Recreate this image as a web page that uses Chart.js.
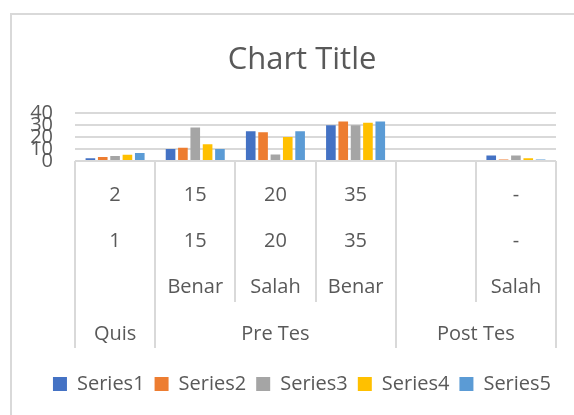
<!DOCTYPE html>
<html><head><meta charset="utf-8">
<script src="https://cdn.jsdelivr.net/npm/chart.js@4/dist/chart.umd.min.js"></script>
<style>html,body{margin:0;padding:0;overflow:hidden;background:#fff}canvas{display:block}</style>
</head><body>
<canvas id="c" width="600" height="415"></canvas>
<script>
// ---- data ----
const level1 = ["2", "15", "20", "35", "", "-"];
const level2 = ["1", "15", "20", "35", "", "-"];
const level3 = ["", "Benar", "Salah", "Benar", "", "Salah"];
const groupLabels = ["Quis", "Pre Tes", "Post Tes"];
const groupSizes = [1, 3, 2];
const seriesNames = ["Series1", "Series2", "Series3", "Series4", "Series5"];
const series1 = [2.2, 10, 25, 30, null, 4.5];
const series2 = [3.3, 11, 24, 33, null, 1.3];
const series3 = [4.2, 28, 5.5, 30, null, 4.7];
const series4 = [5.3, 14, 20, 32, null, 2.2];
const series5 = [6.7, 10, 25, 33, null, 1.3];
const yTicks = [0, 10, 20, 30, 40];
const titleText = "Chart Title";

const colors = ["#4472C4", "#ED7D31", "#A5A5A5", "#FFC000", "#5B9BD5"];
const TEXT = "#595959";
const GRID = "#d9d9d9";
const FONT = '"Open Sans", "Liberation Sans", sans-serif';

const borderPlugin = {
  id: 'frame',
  beforeDraw(chart) {
    const ctx = chart.ctx;
    ctx.save();
    ctx.strokeStyle = GRID; ctx.lineWidth = 2;
    ctx.beginPath();
    ctx.moveTo(11, 420); ctx.lineTo(11, 14); ctx.lineTo(620, 14);
    ctx.stroke();
    ctx.restore();
  }
};

const multiLevel = {
  id: 'multiLevel',
  afterDraw(chart) {
    const { ctx, chartArea, scales } = chart;
    const x = scales.x;
    const n = chart.data.labels.length;
    const w = x.getPixelForValue(1) - x.getPixelForValue(0);
    const left = x.getPixelForValue(0) - w / 2;
    const b = chartArea.bottom;
    const edges = new Set([0]);
    let acc = 0;
    groupSizes.forEach(s => { acc += s; edges.add(acc); });
    ctx.save();
    ctx.strokeStyle = GRID; ctx.lineWidth = 2;
    for (let i = 0; i <= n; i++) {
      const px = Math.round(left + i * w);
      const len = edges.has(i) ? 187 : 141;
      ctx.beginPath();
      ctx.moveTo(px, b); ctx.lineTo(px, b + len);
      ctx.stroke();
    }
    ctx.fillStyle = TEXT;
    ctx.font = '20px ' + FONT;
    ctx.textAlign = 'center';
    ctx.textBaseline = 'alphabetic';
    const rows = [level1, level2, level3];
    const offs = [40, 86, 132];
    rows.forEach((row, r) => {
      row.forEach((t, i) => {
        if (t) ctx.fillText(t, x.getPixelForValue(i), b + offs[r]);
      });
    });
    let start = 0;
    groupLabels.forEach((g, k) => {
      const s = groupSizes[k];
      const cx = (x.getPixelForValue(start) + x.getPixelForValue(start + s - 1)) / 2;
      ctx.fillText(g, cx, b + 179);
      start += s;
    });
    ctx.restore();
  }
};

function draw() {
  const seriesData = [series1, series2, series3, series4, series5];
  new Chart(document.getElementById('c'), {
    type: 'bar',
    data: {
      labels: level3.map((v, i) => [level1[i], level2[i], v]),
      datasets: seriesNames.map((name, i) => ({
        label: name,
        data: seriesData[i],
        backgroundColor: colors[i],
        borderWidth: 0,
        categoryPercentage: 0.77,
        barPercentage: 0.78
      }))
    },
    options: {
      responsive: false,
      animation: false,
      layout: { padding: { left: 20, right: 16, top: 0, bottom: 11 } },
      plugins: {
        title: {
          display: true, text: titleText, color: TEXT,
          font: { family: FONT, size: 31, weight: 'normal', lineHeight: 1.2 },
          padding: { top: 42, bottom: 34 }
        },
        legend: {
          position: 'bottom',
          labels: {
            color: TEXT, boxWidth: 14, boxHeight: 14, padding: 10,
            font: { family: FONT, size: 20 }
          }
        },
        tooltip: { enabled: false }
      },
      scales: {
        x: {
          ticks: { display: false },
          grid: { display: false },
          border: { display: false },
          afterFit(s) { s.height = 203; }
        },
        y: {
          min: yTicks[0], max: yTicks[yTicks.length - 1],
          afterBuildTicks(s) { s.ticks = yTicks.map(v => ({ value: v })); },
          ticks: { color: TEXT, padding: 22, autoSkip: false, font: { family: FONT, size: 20 } },
          grid: { color: GRID, lineWidth: 2, drawTicks: false },
          border: { display: false },
          afterFit(s) { s.width = 55; }
        },
        yRight: {
          position: 'right',
          display: true,
          ticks: { display: false },
          grid: { display: false, drawTicks: false },
          border: { display: false },
          afterFit(s) { s.width = 28; }
        }
      }
    },
    plugins: [borderPlugin, multiLevel]
  });
}
if (document.fonts && document.fonts.load) {
  Promise.all([document.fonts.load('20px "Open Sans"'), document.fonts.load('31px "Open Sans"')]).then(draw, draw);
} else draw();
</script>
</body></html>
